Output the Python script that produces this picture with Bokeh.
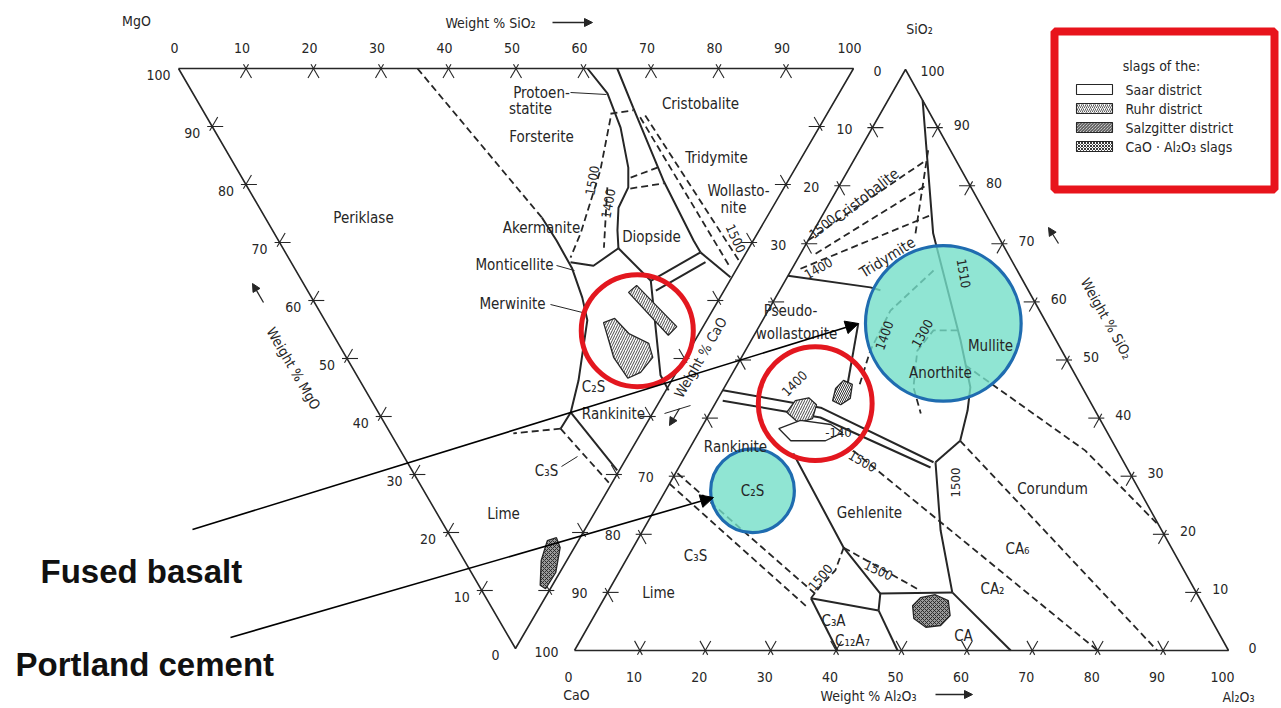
import numpy as np
from bokeh.plotting import figure
from bokeh.models import Range1d, Arrow, NormalHead
from bokeh.embed import file_html
from bokeh.resources import INLINE
from bokeh.core.properties import value

W, H = 1281, 708
FONT = "DejaVu Sans Condensed, Liberation Sans Narrow, Roboto"
INK = "#262626"

# ---------------- data (weight %) ----------------
ticks = list(range(0, 101, 10))

# left diagram MgO-SiO2-CaO : points are (SiO2, CaO)
left_solid = [
    [(41.0, 25.7), (41.2, 29.7), (41.1, 34.5), (40.1, 39.5), (38.9, 43.4), (32.4, 53.8), (28.5, 59.3), (25.6, 62.1)],
    [(28.5, 59.3), (30.4, 69.3)],
    [(60.6, 0), (61.4, 4.3), (60.4, 10.2), (58.1, 17.1), (56.4, 20.5), (53.2, 24.0), (51.1, 27.9), (49.7, 31.0)],
    [(49.7, 31.0), (44.5, 34.0), (41.4, 33.4)],
    [(49.7, 31.0), (51.7, 36.6)],
    [(65.0, 0), (64.0, 6.7), (62.2, 19.3), (61.5, 29.7), (61.5, 31.7)],
    [(61.5, 31.7), (51.7, 36.6)],
    [(61.4, 33.4), (51.6, 38.3)],
    [(61.5, 31.7), (63.8, 36.0)],
    [(51.7, 36.6), (45.0, 52.9), (44.9, 55.5)],
]
left_dashed = [
    [(35.4, 0), (41.0, 25.7)],
    [(25.6, 62.1), (18.2, 62.9)],
    [(25.6, 62.1), (28.1, 71.4)],
    [(60.1, 7.8), (63.8, 7.2)],
    [(57.6, 18.8), (62.4, 17.1)],
    [(56.6, 20.7), (62.0, 19.8)],
    [(59.7, 8.6), (53.7, 17.6), (45.4, 28.4), (41.8, 32.6)],
    [(53.3, 20.5), (47.6, 30.9)],
    [(64.2, 8.4), (64.6, 34.3)],
    [(65.1, 8.1), (66.5, 33.4)],
]
# right diagram CaO-Al2O3-SiO2 : points are (Al2O3, SiO2)
right_solid = [
    [(5.3, 94.7), (18.5, 71.8), (32.0, 53.4), (37.6, 45.3), (39.2, 41.3), (40.7, 36.1)],
    [(40.7, 36.1), (38.8, 32.4)],
    [(38.8, 32.4), (45.5, 20.7), (52.7, 10.0)],
    [(52.7, 10.0), (66.7, 0)],
    [(52.7, 10.0), (41.8, 9.8), (43.0, 6.9)],
    [(43.0, 6.9), (31.6, 9.0)],
    [(31.6, 9.0), (40.2, 0)],
    [(43.0, 6.9), (49.4, 0)],
    [(41.8, 9.8), (32.2, 17.7), (16.3, 33.9)],
    [(0, 64.5), (13.6, 62.5), (15.4, 62.0)],
    [(14.9, 56.3), (18.5, 46.0)],
    [(0, 44.8), (16.5, 41.8), (38.5, 32.4)],
    [(0.9, 43.0), (17.3, 40.1), (38.5, 31.5)],
]
right_dashed = [
    [(0, 70.6), (11.0, 84.3)],
    [(2.3, 68.3), (13.2, 80.0)],
    [(1.3, 65.7), (16.5, 74.9)],
    [(10.5, 86.1), (15.8, 71.8)],
    [(25.2, 34.4), (80.0, 0)],
    [(40.7, 36.1), (89.1, 0)],
    [(34.9, 49.1), (60.7, 34.4), (78.5, 21.5)],
    [(32.2, 17.7), (47.7, 10.3)],
    [(32.2, 17.7), (32.9, 13.8), (32.0, 11.2), (31.6, 9.0)],
    [(0, 28.7), (31.6, 7.6)],
    [(0.3, 30.5), (32.1, 9.6)],
    [(21.8, 65.4), (18.7, 58.5), (19.1, 51.6), (20.5, 45.5)],
    [(30.7, 55.1), (27.0, 55.1), (26.3, 51.6), (28.9, 45.3), (32.3, 40.8)],
]

# slag fields
ruhr_left = [[(41.1, 43.8), (43.1, 43.1), (43.9, 45.7), (46.0, 47.4), (45.4, 49.8), (42.3, 52.4), (39.9, 53.4), (39.6, 49.8)],
             [(47.4, 38.6), (49.2, 37.4), (51.6, 44.5), (49.6, 46.0)]]
ruhr_right = [[(11.7, 41.0), (12.0, 43.0), (13.8, 43.5), (15.6, 42.3), (16.2, 39.9), (14.4, 39.2)]]
saar_right = [[(11.9, 38.2), (14.5, 39.6), (19.5, 38.9), (22.0, 37.5), (20.1, 36.1), (14.8, 36.1)]]
salzgitter_right = [[(17.1, 45.1), (17.6, 46.5), (19.3, 45.8), (20.2, 43.4), (19.3, 42.3), (17.7, 43.0)]]
cao_al_left = [[(14.0, 81.4), (15.6, 80.9), (15.3, 82.6), (12.5, 86.9), (9.6, 89.7), (9.1, 89.1), (11.4, 84.8)]]
cao_al_right = [[(47.8, 7.7), (48.3, 9.1), (50.3, 9.6), (52.8, 8.6), (54.4, 6.0), (53.8, 4.3), (51.7, 4.0), (49.1, 5.5)]]

# highlight circles: (diagram, comp1, comp2, radius in wt%)
red_circles = [("L", 45.4, 45.2, 8.3), ("R", 15.3, 42.5, 8.7)]
blue_circles = [("R", 27.9, 56.3, 11.9), ("R", 13.3, 27.5, 6.4)]

legend_items = ["Saar district", "Ruhr district", "Salzgitter district", "CaO · Al₂O₃ slags"]

# ---------------- geometry ----------------
L_MG, L_SI, L_CA = np.array([178, 68.0]), np.array([853, 68.0]), np.array([515, 648.0])
R_CA, R_AL, R_SI = np.array([574, 650.0]), np.array([1228, 650.0]), np.array([905, 69.0])


def left_pt(si, ca):
    si, ca = si / 100, ca / 100
    q = (1 - si - ca) * L_MG + si * L_SI + ca * L_CA
    return float(q[0]), float(q[1])


def right_pt(al, si):
    al, si = al / 100, si / 100
    q = (1 - al - si) * R_CA + al * R_AL + si * R_SI
    return float(q[0]), float(q[1])


def conv(lines, f):
    xs, ys = [], []
    for ln in lines:
        pts = [f(a, b) for a, b in ln]
        xs.append([q[0] for q in pts])
        ys.append([q[1] for q in pts])
    return xs, ys


p = figure(width=W, height=H, x_range=Range1d(0, W), y_range=Range1d(H, 0),
           x_axis_location=None, y_axis_location=None, toolbar_location=None,
           output_backend="svg", min_border=0, background_fill_color="white",
           border_fill_color="white")
p.outline_line_color = None
p.grid.visible = False

# triangle frames
for A, B, C in [(L_MG, L_SI, L_CA), (R_CA, R_AL, R_SI)]:
    p.line([A[0], B[0], C[0], A[0]], [A[1], B[1], C[1], A[1]], line_color=INK, line_width=1.6)


def tick_marks(A, B, C):
    xs, ys = [], []
    for t in ticks[1:-1]:
        P = A + (t / 100) * (B - A)
        for D in (C - A, C - B):
            d = D / np.linalg.norm(D)
            a, b = P - 5 * d, P + 11 * d
            xs.append([a[0], b[0]]); ys.append([a[1], b[1]])
    return xs, ys


for A, B, C in [(L_MG, L_SI, L_CA), (L_MG, L_CA, L_SI), (L_SI, L_CA, L_MG),
                (R_CA, R_AL, R_SI), (R_AL, R_SI, R_CA), (R_CA, R_SI, R_AL)]:
    xs, ys = tick_marks(A, B, C)
    p.multi_line(xs, ys, line_color=INK, line_width=1.1)

# phase boundaries
xs, ys = conv(left_solid, left_pt)
p.multi_line(xs, ys, line_color=INK, line_width=2.0)
xs, ys = conv(right_solid, right_pt)
p.multi_line(xs, ys, line_color=INK, line_width=2.0)
xs, ys = conv(left_dashed, left_pt)
p.multi_line(xs, ys, line_color=INK, line_width=1.8, line_dash="7 4")
xs, ys = conv(right_dashed, right_pt)
p.multi_line(xs, ys, line_color=INK, line_width=1.8, line_dash="7 4")

# leader lines of labels
p.multi_line([[570, 606], [556, 574], [550, 582], [561, 577], [664, 690]],
             [[92, 94], [265, 270], [304, 312], [466, 456], [413, 405]],
             line_color=INK, line_width=1.0)


def patches(polys, f, **kw):
    xs, ys = conv(polys, f)
    p.patches(xs, ys, line_color=INK, line_width=1.3, **kw)


patches(ruhr_left, left_pt, fill_color="white", hatch_pattern="right_diagonal_line", hatch_scale=5, hatch_weight=0.9, hatch_color="#333333")
patches(ruhr_right, right_pt, fill_color="white", hatch_pattern="right_diagonal_line", hatch_scale=5, hatch_weight=0.9, hatch_color="#333333")
patches(saar_right, right_pt, fill_color="white")
patches(salzgitter_right, right_pt, fill_color="white", hatch_pattern="left_diagonal_line", hatch_scale=4, hatch_weight=1.0, hatch_color="#333333")
patches(cao_al_left, left_pt, fill_color="#9a9a9a", hatch_pattern="diagonal_cross", hatch_scale=4, hatch_weight=0.9, hatch_color="#222222")
patches(cao_al_right, right_pt, fill_color="#9a9a9a", hatch_pattern="diagonal_cross", hatch_scale=4, hatch_weight=0.9, hatch_color="#222222")


def circ_xy(items):
    x, y, r = [], [], []
    for d, a, b, rad in items:
        if d == "L":
            q = left_pt(a, b); scale = np.linalg.norm(L_SI - L_MG) / 100
        else:
            q = right_pt(a, b); scale = np.linalg.norm(R_AL - R_CA) / 100
        x.append(q[0]); y.append(q[1]); r.append(rad * scale)
    return x, y, r


bx, by, br = circ_xy(blue_circles)
p.circle(bx, by, radius=br, fill_color="#74dec8", fill_alpha=0.8, line_color="#1f6cb0", line_width=3.2)


def texts(items, size=14, color=INK, align="center", baseline="middle", font=FONT, style="normal"):
    p.text(x=[t[1] for t in items], y=[t[2] for t in items], text=[t[0] for t in items],
           angle=[np.deg2rad(t[3]) if len(t) > 3 else 0 for t in items],
           text_font=value(font), text_font_size=f"{size}px", text_color=color,
           text_align=align, text_baseline=baseline, text_font_style=style)


lab = []
for k in ticks:
    P = L_MG + k / 100 * (L_SI - L_MG)
    lab.append((str(k), P[0] - 4, 47))
    P = L_CA + k / 100 * (L_MG - L_CA)
    lab.append((str(k), P[0] - 20, P[1] + 6))
    P = R_CA + k / 100 * (R_AL - R_CA)
    lab.append((str(k), P[0] - 6, 676))
for k in [0, 10, 20, 30, 70, 80, 90, 100]:
    P = R_SI + k / 100 * (R_CA - R_SI)
    lab.append((str(k), P[0] - 28, P[1] + 1))
for k in ticks[:-1]:
    P = R_AL + k / 100 * (R_SI - R_AL)
    lab.append((str(k), P[0] + 24, P[1] - 3))
lab.append(("100", 932, 70))
texts(lab, size=14)

texts([("MgO", 136, 20), ("SiO₂", 919, 28), ("CaO", 576, 694), ("Al₂O₃", 1238, 696),
       ("Weight % SiO₂", 490, 22), ("Weight % Al₂O₃", 868, 695),
       ("Weight % MgO", 293, 368, -59.8), ("Weight % CaO", 700, 357, 60),
       ("Weight % SiO₂", 1106, 318, -61)], size=14)

phase = [
    ("Protoen-", 541, 92), ("statite", 530, 108), ("Forsterite", 541, 136),
    ("Cristobalite", 700, 103), ("Tridymite", 716, 157), ("Wollasto-", 738, 190), ("nite", 733, 207),
    ("Periklase", 363, 217), ("Akermanite", 541, 227), ("Diopside", 651, 236),
    ("Monticellite", 514, 264), ("Merwinite", 512, 303), ("C₂S", 593, 386), ("Rankinite", 613, 413),
    ("C₃S", 546, 470), ("Lime", 503, 513),
    ("Pseudo-", 790, 310), ("wollastonite", 796, 333),
    ("Anorthite", 940, 372), ("Mullite", 990, 345), ("Rankinite", 735, 446),
    ("C₂S", 752, 490), ("Gehlenite", 869, 512), ("Corundum", 1052, 488),
    ("CA₆", 1017, 548), ("CA₂", 992, 588), ("CA", 963, 635),
    ("C₃A", 833, 620), ("C₁₂A₇", 852, 640), ("C₃S", 695, 555), ("Lime", 658, 592),
    ("Cristobalite", 866, 195, 38), ("Tridymite", 887, 257, 32),
]
texts(phase, size=15)

iso = [
    ("1500", 592, 180, 80), ("1400", 608, 203, 80), ("1500", 735, 238, -65),
    ("1500", 822, 226, 40), ("1400", 818, 268, 30),
    ("1400", 884, 335, 70), ("1300", 922, 333, 60), ("1510", 963, 273, -80),
    ("1400", 794, 383, 45), ("-140", 838, 432, 0), ("1500", 862, 461, -30),
    ("1500", 955, 482, 90), ("1500", 820, 577, 50), ("1500", 878, 570, -25),
]
texts(iso, size=13)

rx, ry, rr = circ_xy(red_circles)
p.circle(rx, ry, radius=rr, fill_color=None, line_color="#e3171f", line_width=5)

for (x0, y0, x1, y1) in [(552, 22, 592, 22), (935, 694, 972, 694), (263, 302, 252, 283),
                         (679, 408, 669, 425), (1058, 243, 1048, 227)]:
    p.add_layout(Arrow(x_start=x0, y_start=y0, x_end=x1, y_end=y1, line_color=INK, line_width=1.3,
                       end=NormalHead(size=8, fill_color=INK, line_color=INK)))

p.add_layout(Arrow(x_start=192, y_start=529, x_end=858, y_end=323, line_color="black", line_width=1.6,
                   end=NormalHead(size=13, fill_color="black", line_color="black")))
p.add_layout(Arrow(x_start=230, y_start=637, x_end=713, y_end=497, line_color="black", line_width=1.6,
                   end=NormalHead(size=13, fill_color="black", line_color="black")))
texts([("Fused basalt", 40, 571), ("Portland cement", 15, 664)], size=33, color="#111111",
      align="left", baseline="alphabetic", font="Liberation Sans, Arial", style="bold")

# legend box
p.quad(left=[1054], right=[1274], top=[31], bottom=[189], fill_color="white",
       line_color="#e8141c", line_width=8)
texts([("slags of the:", 1161, 65)], size=14)
rows = [89, 108, 127, 146]
sw_kw = [dict(), dict(hatch_pattern="right_diagonal_line", hatch_scale=4, hatch_weight=0.8, hatch_color="#333"),
         dict(hatch_pattern="left_diagonal_line", hatch_scale=3, hatch_weight=1.0, hatch_color="#333"),
         dict(hatch_pattern="diagonal_cross", hatch_scale=3, hatch_weight=0.9, hatch_color="#222")]
for yv, kw in zip(rows, sw_kw):
    p.quad(left=[1076], right=[1112], top=[yv - 5], bottom=[yv + 5], fill_color="white",
           line_color=INK, line_width=1.1, **kw)
texts([(t, 1125, yv) for t, yv in zip(legend_items, rows)], size=14, align="left")

open("out.html", "w").write(file_html(p, INLINE))
